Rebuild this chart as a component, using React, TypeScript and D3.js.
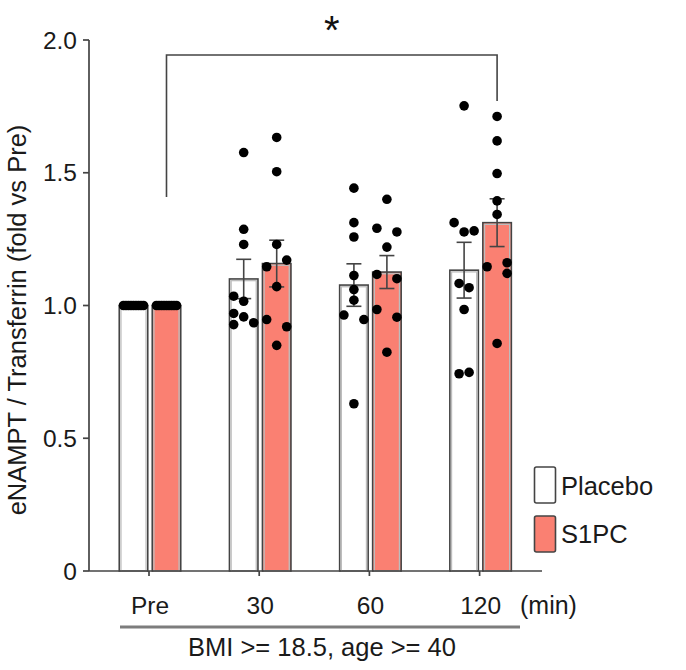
import React from "react";
import * as d3 from "d3";

const groups = ["Pre", "30", "60", "120"];
const series = ["Placebo", "S1PC"];
const placeboMean = [1.0, 1.1, 1.077, 1.133];
const placeboSem = [0, 0.074, 0.08, 0.105];
const s1pcMean = [1.0, 1.158, 1.126, 1.312];
const s1pcSem = [0, 0.088, 0.062, 0.09];

// each dot: [value, lane]  (lane = horizontal jitter slot, -1..1)
const preLanes = [-1, -0.75, -0.5, -0.25, 0, 0.25, 0.5, 0.75, 1];
const placeboDots: [number, number][][] = [
  preLanes.map((l) => [1.0, l] as [number, number]),
  [[1.576, 0], [1.287, 0], [1.23, 0], [1.035, -1], [1.016, 0], [0.97, -1], [0.957, 0], [0.928, -1], [0.935, 1]],
  [[1.442, 0], [1.312, 0], [1.258, 0], [1.113, 0], [1.06, 0], [1.02, 0], [0.964, -1], [0.947, 1], [0.63, 0]],
  [[1.752, 0], [1.312, -1], [1.277, 0], [1.281, 1], [1.083, -0.5], [1.067, 0.5], [0.985, 0], [0.743, -0.5], [0.748, 0.5]],
];
const s1pcDots: [number, number][][] = [
  preLanes.map((l) => [1.0, l] as [number, number]),
  [[1.633, 0], [1.504, 0], [1.23, 0], [1.146, -1], [1.171, 1], [1.071, 0], [0.947, -1], [0.92, 1], [0.85, 0]],
  [[1.4, 0], [1.291, -1], [1.277, 1], [1.22, 0], [1.117, -1], [1.101, 1], [0.985, -1], [0.956, 1], [0.824, 0]],
  [[1.712, 0], [1.62, 0], [1.497, 0], [1.394, 0], [1.343, 0], [1.146, -1], [1.161, 1], [1.121, 1], [0.857, 0]],
];
const yTicks = [0, 0.5, 1.0, 1.5, 2.0];
const yTickLabels = ["0", "0.5", "1.0", "1.5", "2.0"];
const yLabel = "eNAMPT / Transferrin (fold vs Pre)";
const xUnit = "(min)";
const groupLabel = "BMI >= 18.5, age >= 40";
const sigMark = "*";

const FONT = "'Liberation Sans', Arial, Helvetica, sans-serif";
const COLORS: Record<string, string> = { Placebo: "#ffffff", S1PC: "#fa8072" };
const DARK = "#444444";
const TEXT = "#1a1a1a";

export default function App() {
  const width = 686;
  const height = 670;
  const axisX = 89;
  const y = d3.scaleLinear().domain([0, 2]).range([571, 40]);
  const x = d3.scaleBand<string>().domain(groups).range([94.9, 535.7]).padding(0);
  const inner = d3.scaleBand<string>().domain(series).range([-30.75, 30.75]).paddingInner(0.136);
  const lane = d3.scaleLinear().domain([-1, 1]).range([-10, 10]);
  const gc = (g: string) => (x(g) as number) + x.bandwidth() / 2;
  const bw = inner.bandwidth();
  const barCenter = (g: string, s: string) => gc(g) + (inner(s) as number) + bw / 2;

  const means: Record<string, number[]> = { Placebo: placeboMean, S1PC: s1pcMean };
  const sems: Record<string, number[]> = { Placebo: placeboSem, S1PC: s1pcSem };
  const dots: Record<string, [number, number][][]> = { Placebo: placeboDots, S1PC: s1pcDots };

  const bL = barCenter("Pre", "S1PC");
  const bR = barCenter("120", "S1PC");

  return (
    <svg width={width} height={height} style={{ position: "absolute", left: 0, top: 0, background: "#fff" }} fontFamily={FONT}>
      {/* bars */}
      {series.map((s) =>
        groups.map((g, i) => {
          const x0 = gc(g) + (inner(s) as number);
          const yt = y(means[s][i]);
          const h = y(0) - yt;
          return (
            <g key={s + g}>
              <rect x={x0} y={yt} width={bw} height={h} fill={COLORS[s]} stroke={DARK} strokeWidth={1.6} />
              <rect x={x0 + 1.7} y={yt + 1.7} width={bw - 3.4} height={h - 1.7} fill="none" stroke="#bdbdbd" strokeWidth={1.3} />
            </g>
          );
        })
      )}
      {/* error bars */}
      {series.map((s) =>
        groups.map((g, i) => {
          if (sems[s][i] === 0) return null;
          const cx = barCenter(g, s);
          const hi = y(means[s][i] + sems[s][i]);
          const lo = y(means[s][i] - sems[s][i]);
          return (
            <g key={"e" + s + g} stroke={DARK} strokeWidth={1.6}>
              <line x1={cx} x2={cx} y1={hi} y2={lo} />
              <line x1={cx - 7.5} x2={cx + 7.5} y1={hi} y2={hi} />
              <line x1={cx - 7.5} x2={cx + 7.5} y1={lo} y2={lo} />
            </g>
          );
        })
      )}
      {/* dots */}
      {series.map((s) =>
        groups.map((g, i) =>
          dots[s][i].map(([v, l], j) => (
            <circle key={"d" + s + g + j} cx={barCenter(g, s) + lane(l)} cy={y(v)} r={4.8} fill="#000" />
          ))
        )
      )}
      {/* y axis */}
      <line x1={axisX} x2={axisX} y1={y(2)} y2={y(0)} stroke={DARK} strokeWidth={1.7} />
      {yTicks.map((t, i) => (
        <g key={"yt" + i}>
          <line x1={axisX - 6} x2={axisX} y1={y(t)} y2={y(t)} stroke={DARK} strokeWidth={1.7} />
          <text x={axisX - 12} y={y(t)} dy="0.35em" textAnchor="end" fontSize={24.5} fill={TEXT}>
            {yTickLabels[i]}
          </text>
        </g>
      ))}
      <text transform={`translate(26,320) rotate(-90)`} textAnchor="middle" fontSize={25.5} fill={TEXT}>
        {yLabel}
      </text>
      {/* x axis */}
      <line x1={axisX} x2={542} y1={y(0)} y2={y(0)} stroke={DARK} strokeWidth={1.7} />
      {groups.map((g) => (
        <g key={"xt" + g}>
          <line x1={gc(g) - 1} x2={gc(g) - 1} y1={y(0)} y2={y(0) + 5} stroke={DARK} strokeWidth={1.7} />
          <text x={gc(g)} y={614} textAnchor="middle" fontSize={24.5} fill={TEXT}>
            {g}
          </text>
        </g>
      ))}
      <text x={520} y={614} fontSize={25} fill={TEXT}>
        {xUnit}
      </text>
      <line x1={120} x2={520} y1={627} y2={627} stroke="#7d7d7d" strokeWidth={3} />
      <text x={322} y={656} textAnchor="middle" fontSize={25.5} fill={TEXT}>
        {groupLabel}
      </text>
      {/* significance bracket */}
      <path d={`M${bL},${197} V${55} H${bR} V${101}`} fill="none" stroke={DARK} strokeWidth={1.6} />
      <text x={(bL + bR) / 2} y={44} textAnchor="middle" fontSize={40} fill="#111">
        {sigMark}
      </text>
      {/* legend */}
      {series.map((s, i) => (
        <g key={"lg" + s}>
          <rect x={534.5} y={467 + i * 49} width={21} height={36} rx={2} fill={COLORS[s]} stroke={DARK} strokeWidth={1.6} />
          <text x={561} y={486 + i * 48} dy="0.35em" fontSize={25.5} fill={TEXT}>
            {s}
          </text>
        </g>
      ))}
    </svg>
  );
}
